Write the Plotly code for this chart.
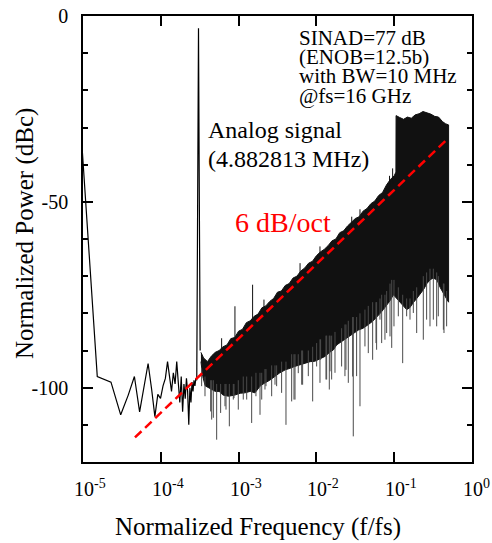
import numpy as np
import plotly.graph_objects as go

# ---------------- data ----------------
N_FFT = 131072
low_bins = list(range(1, 43))
low_power_db = [
    -2.0, -97.0, -98.5, -107.3, -102.0, -97.0, -106.5, -100.0, -93.5, -100.5,
    -107.8, -101.8, -102.9, -99.5, -97.5, -93.0,
    -97.5, -101.0, -96.0, -99.0, -93.0, -98.0, -104.0, -97.0, -106.5, -99.0,
    -103.0, -97.5, -101.0, -110.0, -100.0, -104.0, -98.5, -101.0, -98.0, -99.5,
    -97.5, -98.0,
    -50.0, -3.3, -50.0, -90.0,
]

body_top_log10f = [-3.484, -3.45, -3.40, -3.35, -3.30, -3.25, -3.20, -3.15, -3.10, -3.05,
                   -3.00, -2.95, -2.90, -2.85, -2.80, -2.75, -2.70, -2.65, -2.60, -2.55,
                   -2.50, -2.45, -2.40, -2.35, -2.30, -2.25, -2.20, -2.15, -2.10, -2.05,
                   -2.00, -1.95, -1.90, -1.85, -1.80, -1.75, -1.70, -1.65, -1.60, -1.55,
                   -1.50, -1.45, -1.40, -1.35, -1.30, -1.25, -1.20, -1.15, -1.10, -1.05,
                   -1.00, -0.978, -0.976, -0.93, -0.88, -0.83, -0.78, -0.73, -0.68, -0.63,
                   -0.58, -0.53, -0.48, -0.43, -0.38, -0.34, -0.301]
body_top_db = [-90.5, -92.0, -93.0, -91.5, -90.5, -90.0, -89.0, -88.5, -86.8, -86.5,
               -84.8, -84.3, -82.5, -82.0, -80.8, -80.2, -78.5, -78.0, -76.8, -76.0,
               -74.3, -74.0, -72.5, -72.0, -70.5, -70.0, -68.6, -67.8, -66.5, -66.0,
               -64.5, -63.5, -62.8, -61.8, -60.5, -60.0, -58.3, -57.8, -56.5, -55.5,
               -54.5, -54.0, -52.5, -51.8, -50.5, -49.8, -48.3, -47.5, -45.5, -44.0,
               -43.0, -42.0, -26.8, -27.3, -27.8, -27.2, -27.5, -26.6, -26.3, -25.7,
               -26.0, -26.4, -27.0, -27.2, -28.4, -29.0, -29.3]

body_bot_log10f = [-3.484, -3.46, -3.43, -3.40, -3.35, -3.30, -3.25, -3.20, -3.13, -3.05,
                   -2.98, -2.92, -2.85, -2.79, -2.72, -2.66, -2.60, -2.53, -2.47, -2.40,
                   -2.34, -2.28, -2.21, -2.15, -2.08, -2.02, -1.95, -1.89, -1.83, -1.78,
                   -1.74, -1.67, -1.60, -1.53, -1.46, -1.40, -1.33, -1.27, -1.22, -1.18,
                   -1.14, -1.10, -1.05, -1.01, -0.97, -0.93, -0.88, -0.84, -0.80, -0.75,
                   -0.71, -0.67, -0.62, -0.58, -0.54, -0.50, -0.45, -0.41, -0.37, -0.33,
                   -0.301]
body_bot_db = [-93.0, -97.0, -99.5, -100.0, -100.5, -101.0, -101.0, -102.0, -102.3, -102.0,
               -101.5, -101.4, -101.0, -101.4, -99.5, -98.7, -98.0, -97.0, -96.0, -95.2,
               -94.8, -94.3, -93.8, -93.4, -93.0, -92.9, -92.2, -91.6, -90.5, -89.8,
               -88.5, -87.5, -86.5, -85.5, -84.5, -84.0, -83.0, -82.0, -81.0, -80.0,
               -79.0, -78.0, -76.5, -75.0, -76.0, -77.0, -78.0, -79.0, -78.5, -77.0,
               -76.0, -75.0, -73.5, -72.0, -71.0, -70.5, -71.0, -73.0, -74.5, -76.0,
               -77.0]

down_spike_log10f = [-3.475, -3.432, -3.359, -3.346, -3.325, -3.282, -3.231, -3.175, -3.162, -3.119,
                     -3.068, -3.059, -3.004, -2.940, -2.896, -2.832, -2.777, -2.725, -2.703, -2.661,
                     -2.648, -2.575, -2.532, -2.511, -2.447, -2.391, -2.318, -2.288, -2.275, -2.233,
                     -2.189, -2.177, -2.104, -2.048, -1.997, -1.954, -1.946, -1.877, -1.868, -1.834,
                     -1.825, -1.804, -1.761, -1.676, -1.633, -1.620, -1.590, -1.534, -1.526, -1.483,
                     -1.440, -1.376, -1.333, -1.277, -1.234, -1.226, -1.183, -1.161, -1.119, -1.097,
                     -1.054, -1.032, -1.003, -0.947, -0.891, -0.840, -0.797, -0.754, -0.711, -0.626,
                     -0.583, -0.540, -0.497, -0.454, -0.433, -0.368, -0.360, -0.326]
down_spike_low_db = [-99.6, -102.3, -106.4, -108.6, -108.1, -114.0, -106.8, -105.0, -105.9, -110.4,
                     -103.2, -102.8, -105.9, -103.2, -103.2, -109.5, -102.3, -107.3, -103.2, -100.5,
                     -99.6, -102.3, -99.2, -99.6, -101.4, -110.0, -103.7, -103.2, -103.2, -96.1,
                     -99.2, -99.2, -96.9, -103.7, -94.3, -98.7, -92.5, -97.8, -97.8, -100.5,
                     -95.6, -97.8, -96.0, -94.3, -96.9, -95.2, -98.7, -97.0, -113.1, -96.9,
                     -105.0, -88.9, -90.7, -92.5, -88.0, -89.8, -81.7, -88.0, -87.1, -85.3,
                     -86.2, -89.3, -83.5, -80.8, -93.4, -80.8, -81.7, -79.9, -85.3, -87.1,
                     -81.7, -83.5, -81.7, -83.5, -80.8, -84.4, -85.3, -83.5]
down_spike_high_db = [-95, -97, -98, -98, -98, -99, -99, -99, -99, -99,
                      -99, -99, -98, -97, -97, -97, -96, -96, -96, -95,
                      -95, -94, -94, -94, -93, -93, -91, -91, -91, -91,
                      -90, -90, -90, -89, -88, -87, -87, -86, -86, -86,
                      -86, -86, -85, -84, -83, -83, -82, -81, -81, -81,
                      -80, -79, -78, -77, -77, -77, -76, -75, -75, -74,
                      -72, -71, -71, -73, -75, -76, -76, -74, -73, -70,
                      -69, -68, -68, -69, -70, -72, -72, -74]

up_spike_log10f = [-3.218, -3.047, -2.820, -2.674, -2.210, -1.954, -1.546, -1.440, -1.060, -1.020]
up_spike_low_db = [-90.0, -88.0, -82.0, -80.0, -70.0, -65.0, -57.0, -55.0, -46.0, -45.0]
up_spike_high_db = [-86.7, -78.1, -72.3, -76.3, -66.5, -62.0, -54.0, -52.0, -43.0, -41.0]

slope_log10f = [-4.332, -0.325]
slope_db = [-113.4, -33.3]

x_tick_exponents = [-5, -4, -3, -2, -1, 0]
y_tick_vals = [0, -50, -100]
y_tick_text = ["0", "-50", "-100"]
y_minor_vals = [-10, -20, -30, -40, -60, -70, -80, -90, -110]

info_lines = ["SINAD=77 dB", "(ENOB=12.5b)", "with BW=10 MHz", "@fs=16 GHz"]
signal_lines = ["Analog signal", "(4.882813 MHz)"]
slope_label = "6 dB/oct"

# ---------------- figure ----------------
W, H = 492, 543
PL, PR, PT, PB = 83, 472, 16, 462
FONT = "Liberation Serif, Times New Roman, serif"


def px(x, y):
    return (x - PL) / (PR - PL), (PB - y) / (PB - PT)


low_f = np.array(low_bins) / N_FFT

fig = go.Figure()
fig.add_trace(go.Scatter(x=low_f, y=low_power_db, mode="lines",
                         line=dict(color="black", width=1.2)))

poly_x = list(10 ** np.array(body_top_log10f)) + list(10 ** np.array(body_bot_log10f[::-1]))
poly_y = body_top_db + body_bot_db[::-1]
fig.add_trace(go.Scatter(x=poly_x, y=poly_y, mode="lines", fill="toself",
                         fillcolor="#111111", line=dict(color="#111111", width=1)))

sx, sy = [], []
for lf, lo, hi in zip(down_spike_log10f, down_spike_low_db, down_spike_high_db):
    sx += [10 ** lf, 10 ** lf, None]
    sy += [hi, lo, None]
fig.add_trace(go.Scatter(x=sx, y=sy, mode="lines", line=dict(color="#4a4a4a", width=1)))

ux, uy = [], []
for lf, lo, hi in zip(up_spike_log10f, up_spike_low_db, up_spike_high_db):
    ux += [10 ** lf, 10 ** lf, None]
    uy += [lo, hi, None]
fig.add_trace(go.Scatter(x=ux, y=uy, mode="lines", line=dict(color="#111111", width=1)))

fig.add_trace(go.Scatter(x=10 ** np.array(slope_log10f), y=slope_db, mode="lines",
                         line=dict(color="#ff0000", width=2.5, dash="9px,5px")))

annotations = []
for i, t in enumerate(info_lines):
    xp, yp = px(297, [37.9, 57.0, 76.3, 96.2][i])
    annotations.append(dict(text=t, x=xp, y=yp, xref="paper", yref="paper",
                            xanchor="left", yanchor="middle", showarrow=False,
                            font=dict(family=FONT, size=21, color="black")))
for i, t in enumerate(signal_lines):
    xp, yp = px(206, [129.8, 158.5][i])
    annotations.append(dict(text=t, x=xp, y=yp, xref="paper", yref="paper",
                            xanchor="left", yanchor="middle", showarrow=False,
                            font=dict(family=FONT, size=24, color="black")))
xp, yp = px(233, 222.5)
annotations.append(dict(text=slope_label, x=xp, y=yp, xref="paper", yref="paper",
                        xanchor="left", yanchor="middle", showarrow=False,
                        font=dict(family=FONT, size=28, color="#ff0000")))
for e in x_tick_exponents:
    _, yp = px(0, 488)
    annotations.append(dict(text="10<sup>%d</sup>" % e, x=e, y=yp, xref="x", yref="paper",
                            xanchor="left", yanchor="middle", xshift=-11, showarrow=False,
                            font=dict(family=FONT, size=20, color="black")))
xp, yp = px(258, 526.5)
annotations.append(dict(text="Normalized Frequency (f/fs)", x=xp, y=yp, xref="paper", yref="paper",
                        xanchor="center", yanchor="middle", showarrow=False,
                        font=dict(family=FONT, size=25, color="black")))
xp, yp = px(24.5, 233.5)
annotations.append(dict(text="Normalized Power (dBc)", x=xp, y=yp, xref="paper", yref="paper",
                        xanchor="center", yanchor="middle", showarrow=False, textangle=-90,
                        font=dict(family=FONT, size=25, color="black")))

fig.update_layout(
    template="none",
    width=W, height=H,
    margin=dict(l=PL, r=W - PR, t=PT, b=H - PB, pad=0),
    paper_bgcolor="white", plot_bgcolor="white",
    showlegend=False,
    annotations=annotations,
    xaxis=dict(type="log", range=[-5, 0], showgrid=False, zeroline=False, automargin=False,
               tickmode="array", tickvals=[10 ** e for e in x_tick_exponents],
               showticklabels=False, ticks="inside", ticklen=10, tickwidth=1.5,
               tickcolor="black", showline=True, linecolor="black", linewidth=1.5,
               mirror="ticks"),
    yaxis=dict(range=[-120, 0], showgrid=False, zeroline=False, automargin=False,
               tickmode="array", tickvals=y_tick_vals, ticktext=y_tick_text,
               ticks="inside", ticklen=10, tickwidth=1.5, tickcolor="black",
               ticklabelstandoff=9,
               minor=dict(tickmode="array", tickvals=y_minor_vals, ticks="inside",
                          ticklen=5, tickwidth=1.5, tickcolor="black"),
               showline=True, linecolor="black", linewidth=1.5, mirror="ticks",
               tickfont=dict(family=FONT, size=20, color="black")),
    yaxis2=dict(range=[-120, 0], overlaying="y", side="left", anchor="x", automargin=False,
                showgrid=False, zeroline=False, showline=False,
                tickmode="array", tickvals=[-50, -100], ticks="outside", ticklen=9,
                tickwidth=1.5, tickcolor="black", showticklabels=False),
)

fig.write_html("out.html",
               config={"displayModeBar": False},
               post_script="document.body.style.margin='0';document.body.style.overflow='hidden';")
